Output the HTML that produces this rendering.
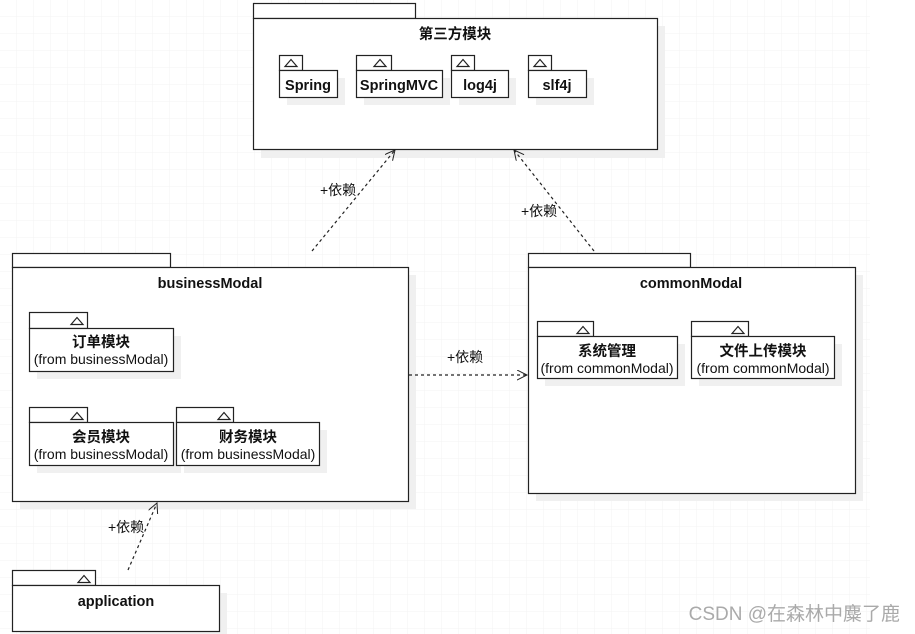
<!DOCTYPE html>
<html><head><meta charset="utf-8"><style>
html,body{margin:0;padding:0;background:#fff;width:915px;height:634px;overflow:hidden}
svg{display:block}
text{font-family:"Liberation Sans","Noto Sans CJK SC",sans-serif;fill:#111}
.b{font-weight:bold;font-size:14.5px}
.n{font-size:14px}
</style></head><body>
<svg width="915" height="634" viewBox="0 0 915 634">
<defs>
<pattern id="g" width="17" height="17" patternUnits="userSpaceOnUse">
<path d="M17 0V17H0" fill="none" stroke="#f3f3f3" stroke-width="1"/>
</pattern>
<marker id="a" markerWidth="12" markerHeight="12" refX="10" refY="5" orient="auto" markerUnits="userSpaceOnUse">
<path d="M0 0L10 5L0 10" fill="none" stroke="#222" stroke-width="1"/>
</marker>
</defs>
<rect x="0" y="0" width="870" height="634" fill="url(#g)"/>
<g fill="#f0f0f0">
<rect x="261" y="150" width="404" height="8"/><rect x="658" y="26" width="7" height="132"/>
<rect x="20" y="502" width="396" height="7"/><rect x="409" y="275" width="7" height="234"/>
<rect x="536" y="494" width="327" height="7"/><rect x="856" y="275" width="7" height="226"/>
<rect x="20" y="632" width="207" height="2"/><rect x="220" y="593" width="7" height="41"/>
</g>
<g fill="#fff" stroke="#222" stroke-width="1.2">
<rect x="253.5" y="3.5" width="162" height="15"/>
<rect x="253.5" y="18.5" width="404" height="131"/>
<rect x="12.5" y="253.5" width="158" height="14"/>
<rect x="12.5" y="267.5" width="396" height="234"/>
<rect x="528.5" y="253.5" width="162" height="14"/>
<rect x="528.5" y="267.5" width="327" height="226"/>
<rect x="12.5" y="570.5" width="83" height="15"/>
<rect x="12.5" y="585.5" width="207" height="46"/>
</g>
<text x="455" y="39" class="b" text-anchor="middle">第三方模块</text>
<text x="210" y="288" class="b" text-anchor="middle">businessModal</text>
<text x="691" y="288" class="b" text-anchor="middle">commonModal</text>
<text x="116" y="606" class="b" text-anchor="middle">application</text>
<g fill="#f0f0f0" stroke="none">
<rect x="287" y="78" width="58" height="27"/><rect x="364" y="78" width="86" height="27"/>
<rect x="459" y="78" width="57" height="27"/><rect x="536" y="78" width="58" height="27"/>
<rect x="37" y="336" width="144" height="43"/><rect x="37" y="430" width="144" height="43"/>
<rect x="184" y="430" width="143" height="43"/><rect x="545" y="344" width="140" height="42"/>
<rect x="699" y="344" width="143" height="42"/>
</g>
<g fill="#fff" stroke="#222" stroke-width="1.2">
<rect x="279.5" y="55.5" width="23" height="15"/><rect x="279.5" y="70.5" width="58" height="27"/>
<rect x="356.5" y="55.5" width="35" height="15"/><rect x="356.5" y="70.5" width="86" height="27"/>
<rect x="451.5" y="55.5" width="23" height="15"/><rect x="451.5" y="70.5" width="57" height="27"/>
<rect x="528.5" y="55.5" width="23" height="15"/><rect x="528.5" y="70.5" width="58" height="27"/>
<rect x="29.5" y="312.5" width="58" height="16"/><rect x="29.5" y="328.5" width="144" height="43"/>
<rect x="29.5" y="407.5" width="58" height="15"/><rect x="29.5" y="422.5" width="144" height="43"/>
<rect x="176.5" y="407.5" width="57" height="15"/><rect x="176.5" y="422.5" width="143" height="43"/>
<rect x="537.5" y="321.5" width="56" height="15"/><rect x="537.5" y="336.5" width="140" height="42"/>
<rect x="691.5" y="321.5" width="57" height="15"/><rect x="691.5" y="336.5" width="143" height="42"/>
</g>
<g fill="none" stroke="#222" stroke-width="1.2">
<path d="M285 66.5L291 59.5L297 66.5Z"/><path d="M374 66.5L380 59.5L386 66.5Z"/>
<path d="M457 66.5L463 59.5L469 66.5Z"/><path d="M534 66.5L540 59.5L546 66.5Z"/>
<path d="M71 324.5L77 317.5L83 324.5Z"/><path d="M71 419.5L77 412.5L83 419.5Z"/>
<path d="M218 419.5L224 412.5L230 419.5Z"/><path d="M577 333.5L583 326.5L589 333.5Z"/>
<path d="M732 333.5L738 326.5L744 333.5Z"/><path d="M78 582.5L84 575.5L90 582.5Z"/>
</g>
<text x="308" y="90" class="b" text-anchor="middle">Spring</text>
<text x="399" y="90" class="b" text-anchor="middle">SpringMVC</text>
<text x="480" y="90" class="b" text-anchor="middle">log4j</text>
<text x="557" y="90" class="b" text-anchor="middle">slf4j</text>
<text x="101" y="347" class="b" text-anchor="middle">订单模块</text>
<text x="101" y="364" class="n" text-anchor="middle">(from businessModal)</text>
<text x="101" y="442" class="b" text-anchor="middle">会员模块</text>
<text x="101" y="459" class="n" text-anchor="middle">(from businessModal)</text>
<text x="248" y="442" class="b" text-anchor="middle">财务模块</text>
<text x="248" y="459" class="n" text-anchor="middle">(from businessModal)</text>
<text x="607" y="356" class="b" text-anchor="middle">系统管理</text>
<text x="607" y="373" class="n" text-anchor="middle">(from commonModal)</text>
<text x="763" y="356" class="b" text-anchor="middle">文件上传模块</text>
<text x="763" y="373" class="n" text-anchor="middle">(from commonModal)</text>
<g stroke="#222" stroke-width="1.2" fill="none" stroke-dasharray="3,3">
<line x1="312" y1="251" x2="395" y2="150" marker-end="url(#a)"/>
<line x1="594" y1="251" x2="514" y2="150" marker-end="url(#a)"/>
<line x1="409" y1="375" x2="527" y2="375" marker-end="url(#a)"/>
<line x1="128" y1="570" x2="157" y2="503" marker-end="url(#a)"/>
</g>
<text x="320" y="195" class="n">+依赖</text>
<text x="521" y="216" class="n">+依赖</text>
<text x="447" y="362" class="n">+依赖</text>
<text x="108" y="532" class="n">+依赖</text>
<text x="900" y="620" text-anchor="end" style="font-size:19px;fill:#aaa">CSDN @在森林中麋了鹿</text>
</svg>
</body></html>
